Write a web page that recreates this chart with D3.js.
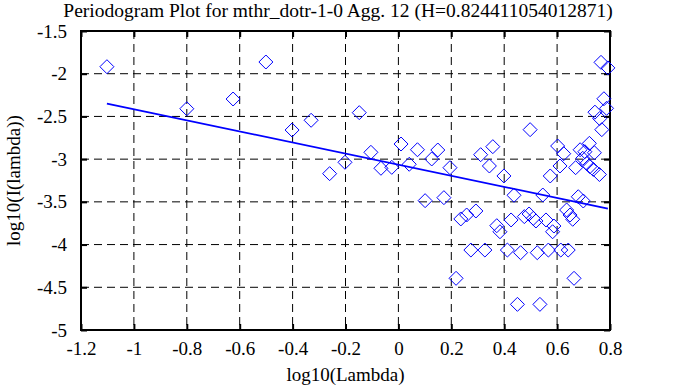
<!DOCTYPE html>
<html>
<head>
<meta charset="utf-8">
<script src="https://cdn.jsdelivr.net/npm/d3@7"></script>
<style>
  html, body { margin: 0; padding: 0; background: #fff; }
  svg { display: block; }
  text { font-family: "Liberation Serif", "DejaVu Serif", serif; fill: #000; }
</style>
</head>
<body>
<svg id="chart" width="673" height="387"></svg>
<script>
const titleText = "Periodogram Plot for mthr_dotr-1-0 Agg. 12 (H=0.824411054012871)";
const xLabel = "log10(Lambda)";
const yLabel = "log10(I(lambda))";
const xTicks = [-1.2, -1, -0.8, -0.6, -0.4, -0.2, 0, 0.2, 0.4, 0.6, 0.8];
const yTicks = [-1.5, -2, -2.5, -3, -3.5, -4, -4.5, -5];

const logLambda = [
  -1.102, -0.501, -0.800, -0.625, -0.402, -0.330, -0.260, -0.202, -0.148, -0.104,
  -0.066, -0.025, 0.010, 0.041, 0.072, 0.126, 0.149, 0.101, 0.172, 0.195,
  0.311, 0.357, 0.344, 0.498, 0.399, 0.437, 0.546, 0.602, 0.625, 0.611,
  0.574, 0.670, 0.687, 0.722, 0.705, 0.741, 0.712, 0.724, 0.737, 0.760,
  0.697, 0.766, 0.792, 0.777, 0.787, 0.743, 0.761, 0.769, 0.680, 0.699,
  0.236, 0.258, 0.293, 0.372, 0.384, 0.426, 0.476, 0.494, 0.510, 0.520,
  0.558, 0.588, 0.583, 0.636, 0.649, 0.659, 0.274, 0.327, 0.412, 0.462,
  0.525, 0.567, 0.614, 0.642, 0.218, 0.664, 0.450, 0.535
];
const logI = [
  -1.918, -1.863, -2.410, -2.296, -2.659, -2.545, -3.170, -3.037, -2.456, -2.920,
  -3.107, -3.096, -2.823, -3.060, -2.890, -2.998, -2.893, -3.486, -3.451, -3.100,
  -2.948, -2.854, -3.080, -2.655, -3.197, -3.423, -3.420, -2.846, -2.936, -3.080,
  -3.197, -3.100, -2.890, -2.815, -2.913, -2.925, -3.050, -3.088, -3.120, -3.180,
  -2.990, -1.867, -1.932, -2.293, -2.405, -2.450, -2.525, -2.655, -3.440, -3.490,
  -3.700, -3.654, -3.607, -3.779, -3.850, -3.712, -3.673, -3.642, -3.693, -3.724,
  -3.712, -3.783, -3.850, -3.595, -3.654, -3.704, -4.064, -4.064, -4.064, -4.095,
  -4.095, -4.064, -4.064, -4.064, -4.395, -4.395, -4.700, -4.700
];

// fitted line: slope = 1 - 2H
const H = 0.824411054012871;
const fitSlope = 1 - 2 * H;
const fitIntercept = -3.065;
const fitX = [-1.102, 0.792];

const svg = d3.select("#chart");
const L = 81, R = 610, T = 31, B = 330;

const x = d3.scaleLinear().domain([-1.2, 0.8]).range([L, R]);
const y = d3.scaleLinear().domain([-5, -1.5]).range([B, T]);

// grid
const grid = svg.append("g");
grid.selectAll("line.vx").data(xTicks.slice(1, -1)).enter().append("line")
  .attr("x1", d => x(d)).attr("x2", d => x(d)).attr("y1", T).attr("y2", B)
  .attr("stroke", "#000").attr("stroke-width", 1).attr("stroke-dasharray", "8,5");
grid.selectAll("line.hy").data(yTicks.slice(1, -1)).enter().append("line")
  .attr("y1", d => y(d)).attr("y2", d => y(d)).attr("x1", L).attr("x2", R)
  .attr("stroke", "#000").attr("stroke-width", 1).attr("stroke-dasharray", "8,5");

// axes with inward ticks
const tickLen = 6;
const fmt = d => String(d);
const gx = svg.append("g").attr("transform", `translate(0,${B})`)
  .call(d3.axisBottom(x).tickValues(xTicks).tickSizeInner(-tickLen).tickSizeOuter(0).tickPadding(tickLen + 6).tickFormat(fmt));
const gxt = svg.append("g").attr("transform", `translate(0,${T})`)
  .call(d3.axisTop(x).tickValues(xTicks).tickSizeInner(-tickLen).tickSizeOuter(0).tickFormat(""));
const gy = svg.append("g").attr("transform", `translate(${L},0)`)
  .call(d3.axisLeft(y).tickValues(yTicks).tickSizeInner(-tickLen).tickSizeOuter(0).tickPadding(tickLen + 8).tickFormat(fmt));
const gyr = svg.append("g").attr("transform", `translate(${R},0)`)
  .call(d3.axisRight(y).tickValues(yTicks).tickSizeInner(-tickLen).tickSizeOuter(0).tickFormat(""));

[gx, gxt, gy, gyr].forEach(g => {
  g.select(".domain").remove();
  g.selectAll(".tick line").attr("stroke", "#000").attr("stroke-width", 2);
  g.selectAll(".tick text").attr("font-family", "Liberation Serif").attr("font-size", 19).attr("fill", "#000");
});
gx.selectAll(".tick text").attr("dy", "0.71em");

// frame
svg.append("rect").attr("x", L).attr("y", T).attr("width", R - L).attr("height", B - T)
  .attr("fill", "none").attr("stroke", "#000").attr("stroke-width", 2);

// points
const pts = logLambda.map((v, i) => [v, logI[i]]);
const r = 7;
svg.append("g").selectAll("path").data(pts).enter().append("path")
  .attr("d", d => {
    const cx = x(d[0]), cy = y(d[1]);
    return `M${cx},${cy - r}L${cx + r},${cy}L${cx},${cy + r}L${cx - r},${cy}Z`;
  })
  .attr("fill", "none").attr("stroke", "#0000ff").attr("stroke-width", 1);

// fit line
const line = d3.line().x(d => x(d)).y(d => y(fitIntercept + fitSlope * d));
svg.append("path").datum(fitX).attr("d", line)
  .attr("fill", "none").attr("stroke", "#0000ff").attr("stroke-width", 1.8);

// title and labels
svg.append("text").attr("x", 338).attr("y", 17).attr("text-anchor", "middle")
  .attr("font-size", 19.5).text(titleText);
svg.append("text").attr("x", (L + R) / 2).attr("y", 381).attr("text-anchor", "middle")
  .attr("font-size", 19).text(xLabel);
svg.append("text").attr("transform", `translate(20,${(T + B) / 2}) rotate(-90)`).attr("text-anchor", "middle")
  .attr("font-size", 19).text(yLabel);
</script>
</body>
</html>
